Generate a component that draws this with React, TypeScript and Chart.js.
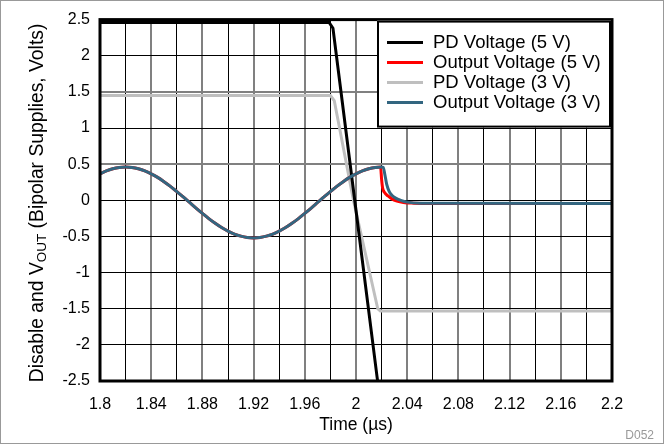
import React, { useEffect, useRef } from 'react';
import { Chart, registerables } from 'chart.js';
Chart.register(...registerables);

// Shared output-voltage sine portion (both supplies overlap here)
const sineTimes = [
  1.8, 1.805, 1.81, 1.815, 1.82, 1.825, 1.83, 1.835, 1.84, 1.845, 1.85, 1.855, 1.86, 1.865,
  1.87, 1.875, 1.88, 1.885, 1.89, 1.895, 1.9, 1.905, 1.91, 1.915, 1.92, 1.925, 1.93, 1.935,
  1.94, 1.945, 1.95, 1.955, 1.96, 1.965, 1.97, 1.975, 1.98, 1.985, 1.99, 1.995, 2.0, 2.005,
  2.01, 2.015,
];
const sineValues = [
  0.366, 0.407, 0.436, 0.454, 0.46, 0.454, 0.436, 0.407, 0.366, 0.317, 0.258, 0.193, 0.121, 0.047,
  -0.03, -0.107, -0.181, -0.253, -0.318, -0.377, -0.426, -0.467, -0.496, -0.514, -0.52, -0.514, -0.496, -0.467,
  -0.426, -0.377, -0.318, -0.253, -0.181, -0.107, -0.03, 0.047, 0.121, 0.193, 0.258, 0.317, 0.366, 0.407,
  0.436, 0.454,
];
const out5TailTimes = [2.0192, 2.0200, 2.0208, 2.0222, 2.025, 2.028, 2.032, 2.037, 2.045, 2.06, 2.2];
const out5TailValues = [0.46, 0.29, 0.17, 0.11, 0.06, 0.02, -0.01, -0.03, -0.04, -0.045, -0.045];
const out3TailTimes = [2.02, 2.0213, 2.0225, 2.024, 2.026, 2.028, 2.031, 2.035, 2.04, 2.05, 2.2];
const out3TailValues = [0.46, 0.455, 0.36, 0.22, 0.12, 0.07, 0.03, 0.0, -0.025, -0.04, -0.045];
const pd5Times = [1.8, 1.979, 1.982, 1.999, 2.0165, 2.018];
const pd5Values = [2.46, 2.46, 2.38, 0.0, -2.45, -2.65];
const pd3Times = [1.8, 1.98, 1.983, 1.998, 2.017, 2.019, 2.2];
const pd3Values = [1.45, 1.45, 1.38, 0.0, -1.5, -1.53, -1.53];

const legendLabels = ['PD Voltage (5 V)', 'Output Voltage (5 V)', 'PD Voltage (3 V)', 'Output Voltage (3 V)'];
const legendColors = ['#000000', '#ff0000', '#bfbfbf', '#336680'];

const xTitle = 'Time (µs)';
const yTitleParts = ['Disable and V', 'OUT', ' (Bipolar Supplies, Volts)'];
const footnote = 'D052';

const FONT = '"Liberation Sans", Arial, sans-serif';

const zip = (xs: number[], ys: number[]) => xs.map((x, i) => ({ x, y: ys[i] }));

const decorPlugin = {
  id: 'decor',
  afterDatasetsDraw(chart: any) {
    const { ctx, chartArea: ca } = chart;
    ctx.save();
    ctx.strokeStyle = '#000';
    ctx.lineWidth = 3;
    ctx.strokeRect(ca.left, ca.top, ca.right - ca.left, ca.bottom - ca.top);
    ctx.restore();
  },
  afterDraw(chart: any) {
    const { ctx, chartArea: ca } = chart;
    ctx.save();
    // legend box
    const w = 234, h = 107;
    const x0 = ca.right - w - 1, y0 = ca.top + 1;
    ctx.fillStyle = '#fff';
    ctx.fillRect(x0, y0, w, h);
    ctx.strokeStyle = '#000';
    ctx.lineWidth = 2;
    ctx.strokeRect(x0 + 1, y0 + 1, w - 2, h - 2);
    ctx.font = `18.5px ${FONT}`;
    ctx.textBaseline = 'middle';
    ctx.textAlign = 'left';
    legendLabels.forEach((lab, i) => {
      const y = y0 + 22 + i * 20;
      ctx.strokeStyle = legendColors[i];
      ctx.lineWidth = 3;
      ctx.beginPath();
      ctx.moveTo(x0 + 10, y);
      ctx.lineTo(x0 + 46, y);
      ctx.stroke();
      ctx.fillStyle = '#000';
      ctx.fillText(lab, x0 + 56, y);
    });
    // x title
    ctx.font = `17.5px ${FONT}`;
    ctx.textAlign = 'center';
    ctx.fillText(xTitle, (ca.left + ca.right) / 2, 425);
    // y title with subscript
    ctx.translate(38, 203);
    ctx.rotate(-Math.PI / 2);
    const mainFont = `19.3px ${FONT}`;
    const subFont = `13.5px ${FONT}`;
    ctx.font = mainFont;
    const w1 = ctx.measureText(yTitleParts[0]).width;
    const w3 = ctx.measureText(yTitleParts[2]).width;
    ctx.font = subFont;
    const w2 = ctx.measureText(yTitleParts[1]).width;
    let x = -(w1 + w2 + w3) / 2;
    ctx.textAlign = 'left';
    ctx.font = mainFont;
    ctx.fillText(yTitleParts[0], x, 0);
    x += w1;
    ctx.font = subFont;
    ctx.fillText(yTitleParts[1], x, 4);
    x += w2;
    ctx.font = mainFont;
    ctx.fillText(yTitleParts[2], x, 0);
    ctx.setTransform(1, 0, 0, 1, 0, 0);
    // footnote
    ctx.font = `12px ${FONT}`;
    ctx.fillStyle = '#999';
    ctx.textAlign = 'right';
    ctx.fillText(footnote, 654, 436);
    // outer frame
    ctx.strokeStyle = '#999';
    ctx.lineWidth = 1;
    ctx.strokeRect(0.5, 0.5, 663, 443);
    ctx.restore();
  },
};

export default function App() {
  const ref = useRef<HTMLCanvasElement>(null);
  useEffect(() => {
    if (!ref.current) return;
    const chart = new Chart(ref.current, {
      type: 'line',
      data: {
        datasets: [
          {
            label: legendLabels[3],
            data: zip(sineTimes.concat(out3TailTimes), sineValues.concat(out3TailValues)),
            borderColor: legendColors[3],
            borderWidth: 3,
            pointRadius: 0,
            cubicInterpolationMode: 'monotone',
          },
          {
            label: legendLabels[0],
            data: zip(pd5Times, pd5Values),
            borderColor: legendColors[0],
            borderWidth: 3,
            pointRadius: 0,
            tension: 0,
          },
          {
            label: legendLabels[1],
            data: zip(sineTimes.concat(out5TailTimes), sineValues.concat(out5TailValues)),
            borderColor: legendColors[1],
            borderWidth: 3,
            pointRadius: 0,
            cubicInterpolationMode: 'monotone',
          },
          {
            label: legendLabels[2],
            data: zip(pd3Times, pd3Values),
            borderColor: legendColors[2],
            borderWidth: 3,
            pointRadius: 0,
            tension: 0,
          },
        ],
      },
      options: {
        responsive: false,
        animation: false,
        parsing: false as any,
        layout: { padding: { left: 0, top: 19, right: 52, bottom: 0 } },
        plugins: { legend: { display: false }, tooltip: { enabled: false } },
        scales: {
          x: {
            type: 'linear',
            min: 1.8,
            max: 2.2,
            afterFit: (s: any) => { s.height = 63; },
            ticks: {
              stepSize: 0.02,
              autoSkip: false,
              maxRotation: 0,
              padding: 14,
              color: '#000',
              font: { family: FONT, size: 16 },
              callback: (v: any, i: number) => (i % 2 === 0 ? String(Number(Number(v).toFixed(2))) : ''),
            },
            grid: {
              drawTicks: false,
              color: (c: any) => (c.index % 2 === 0 ? '#808080' : '#000'),
              lineWidth: (c: any) => (c.index % 2 === 0 ? 2 : 1),
            },
            border: { display: false },
          },
          y: {
            type: 'linear',
            min: -2.5,
            max: 2.5,
            afterFit: (s: any) => { s.width = 100; },
            ticks: {
              stepSize: 0.5,
              autoSkip: false,
              padding: 10,
              color: '#000',
              font: { family: FONT, size: 16 },
              callback: (v: any) => String(Math.round(Number(v) * 10) / 10),
            },
            grid: {
              drawTicks: false,
              color: (c: any) => {
                const v = c.tick ? c.tick.value : 0;
                return Math.abs(v - Math.round(v)) > 0.1 && v > 0 ? '#808080' : '#000';
              },
              lineWidth: (c: any) => {
                const v = c.tick ? c.tick.value : 0;
                return Math.abs(v - Math.round(v)) > 0.1 && v > 0 ? 2 : 1;
              },
            },
            border: { display: false },
          },
        },
      },
      plugins: [decorPlugin],
    } as any);
    return () => chart.destroy();
  }, []);
  return (
    <div style={{ position: 'absolute', left: 0, top: 0, width: 664, height: 444, background: '#fff' }}>
      <canvas ref={ref} width={664} height={444} style={{ display: 'block' }} />
    </div>
  );
}
